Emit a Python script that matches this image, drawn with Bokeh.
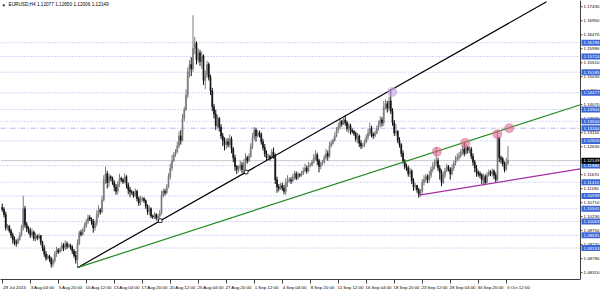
from bokeh.plotting import figure
from bokeh.models import Range1d, FixedTicker, Label
from bokeh.core.properties import value
from bokeh.embed import file_html
from bokeh.resources import INLINE

# ---------------- data ----------------
symbol_line = "EURUSD,H4  1.12077 1.12650 1.12006 1.12149"
first_open = 1.1055

close = [
    1.1048, 1.1030, 1.0985,
    1.0990, 1.0975, 1.0960, 1.0945, 1.0935, 1.0932,
    1.0945, 1.0960, 1.0985, 1.1050, 1.0995, 1.0982,
    1.0975, 1.0960, 1.0970, 1.0948, 1.0955, 1.0950,
    1.0958, 1.0935, 1.0915, 1.0895, 1.0880, 1.0888,
    1.0878, 1.0860, 1.0872, 1.0895, 1.0908, 1.0902,
    1.0912, 1.0925, 1.0915, 1.0930, 1.0920, 1.0925,
    1.0918, 1.0905, 1.0890, 1.0875, 1.0930, 1.0968,
    1.0962, 1.0975, 1.0990, 1.1005, 1.1020, 1.1015,
    1.1008, 1.0985, 1.1000, 1.1030, 1.1045, 1.1040,
    1.1080, 1.1150, 1.1170, 1.1140, 1.1160, 1.1155,
    1.1140, 1.1125, 1.1110, 1.1135, 1.1155, 1.1150,
    1.1142, 1.1160, 1.1132, 1.1115, 1.1108, 1.1105,
    1.1095, 1.1110, 1.1085, 1.1070, 1.1080, 1.1085,
    1.1078, 1.1060, 1.1040, 1.1050, 1.1025, 1.1022,
    1.1030, 1.1018, 1.1025, 1.1035, 1.1095, 1.1110,
    1.1105, 1.1125, 1.1160, 1.1190, 1.1215, 1.1235,
    1.1245, 1.1265, 1.1300, 1.1285, 1.1360, 1.1390,
    1.1440, 1.1520, 1.1545, 1.1530, 1.1600, 1.1618,
    1.1560, 1.1585, 1.1555, 1.1575, 1.1490, 1.1510,
    1.1545, 1.1500, 1.1455, 1.1400, 1.1375, 1.1335,
    1.1360, 1.1330, 1.1300, 1.1285, 1.1270, 1.1280,
    1.1270, 1.1290, 1.1255, 1.1225, 1.1195, 1.1185,
    1.1190, 1.1200, 1.1185, 1.1205, 1.1225, 1.1215,
    1.1230, 1.1265, 1.1295, 1.1320, 1.1300, 1.1310,
    1.1305, 1.1280, 1.1260, 1.1240, 1.1225, 1.1230,
    1.1225, 1.1245, 1.1230, 1.1150, 1.1125, 1.1120,
    1.1130, 1.1120, 1.1110, 1.1140, 1.1145, 1.1150,
    1.1145, 1.1160, 1.1170, 1.1155, 1.1168, 1.1165,
    1.1172, 1.1180, 1.1190, 1.1180, 1.1198, 1.1200,
    1.1210, 1.1225, 1.1235, 1.1215, 1.1195, 1.1205,
    1.1210, 1.1225, 1.1240, 1.1230, 1.1265, 1.1275,
    1.1285, 1.1300, 1.1320, 1.1330, 1.1350, 1.1340,
    1.1355, 1.1345, 1.1325, 1.1335, 1.1320, 1.1315,
    1.1308, 1.1290, 1.1300, 1.1275, 1.1265, 1.1268,
    1.1280, 1.1295, 1.1310, 1.1325, 1.1305, 1.1300,
    1.1310, 1.1325, 1.1340, 1.1355, 1.1345, 1.1400,
    1.1410, 1.1395, 1.1420, 1.1385, 1.1345, 1.1310,
    1.1315, 1.1285, 1.1270, 1.1240, 1.1215, 1.1195,
    1.1190, 1.1170, 1.1180, 1.1145, 1.1125, 1.1130,
    1.1115, 1.1100, 1.1110, 1.1140, 1.1150, 1.1160,
    1.1150, 1.1165, 1.1185, 1.1195, 1.1205, 1.1215,
    1.1190, 1.1175, 1.1140, 1.1165, 1.1180, 1.1195,
    1.1185, 1.1170, 1.1190, 1.1205, 1.1220, 1.1225,
    1.1232, 1.1245, 1.1255, 1.1240, 1.1260, 1.1250,
    1.1255, 1.1230, 1.1210, 1.1190, 1.1175, 1.1170,
    1.1165, 1.1150, 1.1160, 1.1140, 1.1165, 1.1175,
    1.1170, 1.1180, 1.1165, 1.1150, 1.1295, 1.1225,
    1.1220, 1.1205, 1.1185, 1.1208, 1.12149,
]

high = [
    1.1068, 1.1055, 1.1040,
    1.0998, 1.0995, 1.0982, 1.0968, 1.0955, 1.0945,
    1.0952, 1.0970, 1.0995, 1.1095, 1.1060, 1.1005,
    1.0990, 1.0985, 1.0982, 1.0975, 1.0968, 1.0962,
    1.0965, 1.0960, 1.0940, 1.0925, 1.0905, 1.0895,
    1.0892, 1.0885, 1.0880, 1.0905, 1.0920, 1.0915,
    1.0918, 1.0935, 1.0932, 1.0942, 1.0938, 1.0932,
    1.0930, 1.0925, 1.0912, 1.0905, 1.0945, 1.0975,
    1.0978, 1.0985, 1.1002, 1.1015, 1.1030, 1.1028,
    1.1020, 1.1015, 1.1010, 1.1045, 1.1062, 1.1052,
    1.1095, 1.1165, 1.1195, 1.1180, 1.1172, 1.1165,
    1.1160, 1.1148, 1.1135, 1.1145, 1.1170, 1.1160,
    1.1155, 1.1172, 1.1165, 1.1140, 1.1125, 1.1115,
    1.1110, 1.1120, 1.1115, 1.1092, 1.1095, 1.1092,
    1.1090, 1.1082, 1.1065, 1.1062, 1.1055, 1.1030,
    1.1038, 1.1035, 1.1032, 1.1045, 1.1112, 1.1120,
    1.1118, 1.1135, 1.1172, 1.1205, 1.1235, 1.1245,
    1.1255, 1.1280, 1.1315, 1.1320, 1.1375, 1.1400,
    1.1460, 1.1535, 1.1560, 1.1570, 1.1714, 1.1640,
    1.1625, 1.1600, 1.1595, 1.1590, 1.1580, 1.1525,
    1.1558, 1.1552, 1.1510, 1.1465, 1.1410, 1.1390,
    1.1372, 1.1365, 1.1340, 1.1310, 1.1295, 1.1292,
    1.1292, 1.1305, 1.1298, 1.1262, 1.1235, 1.1200,
    1.1198, 1.1215, 1.1210, 1.1220, 1.1240, 1.1232,
    1.1240, 1.1275, 1.1310, 1.1330, 1.1328, 1.1320,
    1.1318, 1.1312, 1.1290, 1.1272, 1.1250, 1.1238,
    1.1235, 1.1255, 1.1260, 1.1240, 1.1160, 1.1135,
    1.1138, 1.1140, 1.1132, 1.1155, 1.1165, 1.1158,
    1.1158, 1.1170, 1.1180, 1.1178, 1.1175, 1.1172,
    1.1180, 1.1192, 1.1205, 1.1198, 1.1210, 1.1208,
    1.1218, 1.1238, 1.1250, 1.1242, 1.1222, 1.1212,
    1.1218, 1.1235, 1.1255, 1.1250, 1.1280, 1.1285,
    1.1292, 1.1312, 1.1330, 1.1345, 1.1362, 1.1355,
    1.1362, 1.1370, 1.1352, 1.1345, 1.1342, 1.1325,
    1.1320, 1.1315, 1.1310, 1.1305, 1.1285, 1.1275,
    1.1288, 1.1305, 1.1325, 1.1345, 1.1335, 1.1312,
    1.1318, 1.1335, 1.1352, 1.1368, 1.1365, 1.1420,
    1.1425, 1.1420, 1.1435, 1.1460, 1.1395, 1.1355,
    1.1340, 1.1320, 1.1295, 1.1275, 1.1250, 1.1220,
    1.1205, 1.1198, 1.1192, 1.1185, 1.1155, 1.1138,
    1.1132, 1.1122, 1.1118, 1.1152, 1.1165, 1.1170,
    1.1168, 1.1180, 1.1195, 1.1210, 1.1220, 1.1262,
    1.1225, 1.1200, 1.1185, 1.1178, 1.1190, 1.1205,
    1.1200, 1.1192, 1.1202, 1.1215, 1.1232, 1.1240,
    1.1245, 1.1255, 1.1268, 1.1278, 1.1272, 1.1265,
    1.1265, 1.1262, 1.1240, 1.1218, 1.1200, 1.1182,
    1.1178, 1.1172, 1.1170, 1.1168, 1.1175, 1.1185,
    1.1182, 1.1188, 1.1185, 1.1175, 1.1317, 1.1290,
    1.1232, 1.1228, 1.1212, 1.1225, 1.1265,
]

low = [
    1.1040, 1.1020, 1.0975,
    1.0978, 1.0968, 1.0950, 1.0930, 1.0925, 1.0920,
    1.0928, 1.0940, 1.0955, 1.0975, 1.0985, 1.0970,
    1.0965, 1.0950, 1.0952, 1.0940, 1.0938, 1.0942,
    1.0945, 1.0925, 1.0905, 1.0885, 1.0872, 1.0875,
    1.0868, 1.0848, 1.0850, 1.0865, 1.0885, 1.0895,
    1.0898, 1.0905, 1.0905, 1.0908, 1.0912, 1.0915,
    1.0910, 1.0895, 1.0882, 1.0862, 1.0850, 1.0925,
    1.0955, 1.0958, 1.0970, 1.0985, 1.0998, 1.1008,
    1.0995, 1.0968, 1.0975, 1.0990, 1.1020, 1.1030,
    1.1035, 1.1075, 1.1135, 1.1120, 1.1125, 1.1145,
    1.1132, 1.1110, 1.1098, 1.1100, 1.1125, 1.1142,
    1.1135, 1.1138, 1.1120, 1.1100, 1.1090, 1.1098,
    1.1088, 1.1090, 1.1075, 1.1060, 1.1062, 1.1075,
    1.1070, 1.1050, 1.1030, 1.1028, 1.1018, 1.1015,
    1.1015, 1.1010, 1.1008, 1.1005, 1.1030, 1.1088,
    1.1095, 1.1100, 1.1120, 1.1150, 1.1180, 1.1210,
    1.1228, 1.1240, 1.1258, 1.1270, 1.1280, 1.1350,
    1.1385, 1.1430, 1.1500, 1.1505, 1.1520, 1.1580,
    1.1545, 1.1550, 1.1540, 1.1530, 1.1475, 1.1460,
    1.1500, 1.1490, 1.1440, 1.1385, 1.1360, 1.1320,
    1.1325, 1.1315, 1.1290, 1.1265, 1.1250, 1.1255,
    1.1260, 1.1262, 1.1240, 1.1210, 1.1180, 1.1170,
    1.1175, 1.1180, 1.1172, 1.1170, 1.1168, 1.1205,
    1.1210, 1.1225, 1.1255, 1.1285, 1.1280, 1.1295,
    1.1295, 1.1270, 1.1250, 1.1228, 1.1215, 1.1220,
    1.1215, 1.1220, 1.1222, 1.1135, 1.1105, 1.1110,
    1.1115, 1.1112, 1.1100, 1.1098, 1.1125, 1.1140,
    1.1135, 1.1140, 1.1150, 1.1148, 1.1150, 1.1158,
    1.1160, 1.1165, 1.1175, 1.1170, 1.1175, 1.1192,
    1.1195, 1.1205, 1.1215, 1.1200, 1.1175, 1.1185,
    1.1198, 1.1205, 1.1218, 1.1215, 1.1225, 1.1260,
    1.1270, 1.1280, 1.1295, 1.1310, 1.1322, 1.1332,
    1.1338, 1.1335, 1.1315, 1.1310, 1.1305, 1.1308,
    1.1300, 1.1280, 1.1275, 1.1262, 1.1255, 1.1258,
    1.1262, 1.1275, 1.1285, 1.1300, 1.1295, 1.1290,
    1.1295, 1.1305, 1.1318, 1.1330, 1.1332, 1.1335,
    1.1390, 1.1380, 1.1385, 1.1375, 1.1335, 1.1300,
    1.1300, 1.1275, 1.1260, 1.1228, 1.1205, 1.1185,
    1.1180, 1.1160, 1.1158, 1.1135, 1.1112, 1.1115,
    1.1105, 1.1088, 1.1092, 1.1102, 1.1130, 1.1140,
    1.1138, 1.1140, 1.1155, 1.1175, 1.1185, 1.1195,
    1.1180, 1.1150, 1.1128, 1.1135, 1.1155, 1.1175,
    1.1178, 1.1150, 1.1165, 1.1180, 1.1198, 1.1212,
    1.1215, 1.1225, 1.1235, 1.1230, 1.1235, 1.1240,
    1.1240, 1.1220, 1.1198, 1.1175, 1.1160, 1.1160,
    1.1155, 1.1135, 1.1130, 1.1132, 1.1138, 1.1160,
    1.1162, 1.1160, 1.1152, 1.1140, 1.1145, 1.1210,
    1.1205, 1.1195, 1.1175, 1.1180, 1.12006,
]

# x-axis labels (bar index of each label)
date_labels = ["29 Jul 2015", "3 Aug 04:00", "5 Aug 20:00", "10 Aug 12:00", "13 Aug 04:00",
               "17 Aug 20:00", "20 Aug 12:00", "25 Aug 04:00", "27 Aug 20:00", "1 Sep 12:00",
               "4 Sep 04:00", "8 Sep 20:00", "11 Sep 12:00", "16 Sep 04:00", "18 Sep 20:00",
               "23 Sep 12:00", "28 Sep 04:00", "30 Sep 20:00", "5 Oct 12:00"]
date_bars = [0, 16, 32, 48, 64, 80, 96, 112, 128, 144, 160, 176, 192, 208, 224, 240, 256, 272, 288]

# price scale labels
price_ticks = [1.17430, 1.16950, 1.16470, 1.15990, 1.15510, 1.15030, 1.14550, 1.14070,
               1.13590, 1.13110, 1.12630, 1.12150, 1.11670, 1.11190, 1.10710, 1.10230,
               1.09750, 1.09270, 1.08790, 1.08310]

# horizontal levels
dotted_levels = [1.16196, 1.15724, 1.15185, 1.14477, 1.13904, 1.13500, 1.12826, 1.11983,
                 1.11410, 1.10939, 1.10501, 1.10063, 1.09591, 1.09153]
dashdot_level = [1.13264]
bid_price = 1.12149

# trend lines (bar index, price)
black_i = [43, 311]
black_p = [1.0848, 1.1760]
black_anchor_i = [90.3, 139.4]
black_anchor_p = [1.1009, 1.1176]
green_i = [43, 330.4]
green_p = [1.0848, 1.1407]
purple_i = [238.3, 330.4]
purple_p = [1.1097, 1.1187]

# touch circles
touch_i = [248.4, 264.6, 282.9, 289.7]
touch_p = [1.1246, 1.1276, 1.1306, 1.1326]
peak_i = [222.9]
peak_p = [1.1451]

# ---------------- layout constants ----------------
FONT = "Liberation Sans"
BAR_PX = 1.75          # pixels per bar
X0 = -1.0              # bar index at the left edge
Y_TOP, Y_BOT = 1.17645, 1.08074
FRAME_H = 284          # approx. frame height in px
PPX = (Y_TOP - Y_BOT) / FRAME_H


def xd(px):
    return X0 + px / BAR_PX


AX_X = xd(580)         # price-scale axis line
RIGHT = xd(600)

# ---------------- candles ----------------
n = min(len(close), len(high), len(low))
idx = list(range(n))
opens = [first_open] + close[:n - 1]
hi = [max(high[k], opens[k], close[k]) for k in range(n)]
lo = [min(low[k], opens[k], close[k]) for k in range(n)]
bull = "#7c7c7c"
bear = "#121212"
cols = [bull if close[k] >= opens[k] else bear for k in range(n)]
tops = [max(opens[k], close[k]) for k in range(n)]
bots = [min(opens[k], close[k]) for k in range(n)]

p = figure(width=600, height=292,
           x_range=Range1d(X0, RIGHT), y_range=Range1d(Y_BOT, Y_TOP),
           output_backend="svg", toolbar_location=None,
           x_axis_location="below", y_axis_location=None,
           min_border_left=0, min_border_right=0, min_border_top=0, min_border_bottom=0,
           background_fill_color="white", border_fill_color="white",
           outline_line_color=None)
p.grid.visible = False

# horizontal levels (stop at price scale)
p.segment(x0=[X0] * len(dotted_levels), y0=dotted_levels, x1=[AX_X] * len(dotted_levels),
          y1=dotted_levels, line_color="#9fb2ee", line_width=1, line_dash="1 2")
p.segment(x0=[X0], y0=dashdot_level, x1=[AX_X], y1=dashdot_level,
          line_color="#aab8ea", line_width=1, line_dash="5 2 1 2")
p.segment(x0=[X0], y0=[bid_price], x1=[AX_X], y1=[bid_price], line_color="#c8c8c8", line_width=1)

# candles
p.segment(x0=idx, y0=lo, x1=idx, y1=hi, line_color=cols, line_width=1)
p.vbar(x=idx, width=0.6, top=tops, bottom=bots, fill_color=cols, line_color=cols, line_width=0.6)

# trend lines
p.line(black_i, black_p, line_color="black", line_width=1.2)
p.line(green_i, green_p, line_color="#1f8a1f", line_width=1.2)
p.line(purple_i, purple_p, line_color="#a52fa5", line_width=1.2)
p.scatter(black_anchor_i, black_anchor_p, marker="square", size=3.5,
          fill_color="white", line_color="black", line_width=0.8)

# circles
p.scatter(touch_i, touch_p, size=10, fill_color="#e0668a", fill_alpha=0.6, line_color=None)
p.scatter(peak_i, peak_p, size=10, fill_color="#c5a2e2", fill_alpha=0.65, line_color=None)

# ---------------- price scale (right) ----------------
p.segment(x0=[AX_X], y0=[Y_BOT], x1=[AX_X], y1=[Y_TOP], line_color="#404040", line_width=1)
p.segment(x0=[AX_X] * len(price_ticks), y0=price_ticks, x1=[xd(582)] * len(price_ticks),
          y1=price_ticks, line_color="#404040", line_width=1)
p.text(x=[xd(583)] * len(price_ticks), y=price_ticks, text=[f"{v:.5f}" for v in price_ticks],
       text_font=value(FONT), text_font_size=value("4.4px"), text_color="black",
       text_align="left", text_baseline="middle")

tag_levels = dotted_levels + dashdot_level
half = 3.0 * PPX
p.quad(left=[xd(581)] * len(tag_levels), right=[RIGHT] * len(tag_levels),
       top=[v + half for v in tag_levels], bottom=[v - half for v in tag_levels],
       fill_color="#3d67d8", line_color=None)
p.text(x=[xd(583)] * len(tag_levels), y=tag_levels, text=[f"{v:.5f}" for v in tag_levels],
       text_font=value(FONT), text_font_size=value("4.4px"), text_color="white",
       text_align="left", text_baseline="middle")
p.quad(left=[xd(581)], right=[RIGHT], top=[bid_price + half], bottom=[bid_price - half],
       fill_color="black", line_color=None)
p.text(x=[xd(583)], y=[bid_price], text=[f"{bid_price:.5f}"],
       text_font=value(FONT), text_font_size=value("4.4px"), text_color="white",
       text_align="left", text_baseline="middle")

# ---------------- time axis ----------------
xa = p.xaxis[0]
label_pos = [b + 7 for b in date_bars]
xa.ticker = FixedTicker(ticks=label_pos, minor_ticks=date_bars)
xa.major_label_overrides = {pos: lab for pos, lab in zip(label_pos, date_labels)}
xa.bounds = (X0, AX_X)
xa.major_tick_out = 0
xa.major_tick_in = 0
xa.minor_tick_out = 4
xa.minor_tick_in = 0
xa.minor_tick_line_color = "#404040"
xa.axis_line_color = "#404040"
xa.major_label_standoff = 1
xa.major_label_text_font = FONT
xa.major_label_text_font_size = "4.4px"
xa.major_label_text_color = "black"

# header
p.add_layout(Label(x=2, x_units="screen", y=275, y_units="screen", text="\u25BE",
                   text_font="DejaVu Sans", text_font_size="5px", text_color="black",
                   text_baseline="middle"))
p.add_layout(Label(x=8, x_units="screen", y=275, y_units="screen", text=symbol_line,
                   text_font=FONT, text_font_size="4.7px", text_color="black",
                   text_baseline="middle"))

open("out.html", "w").write(file_html(p, INLINE))
